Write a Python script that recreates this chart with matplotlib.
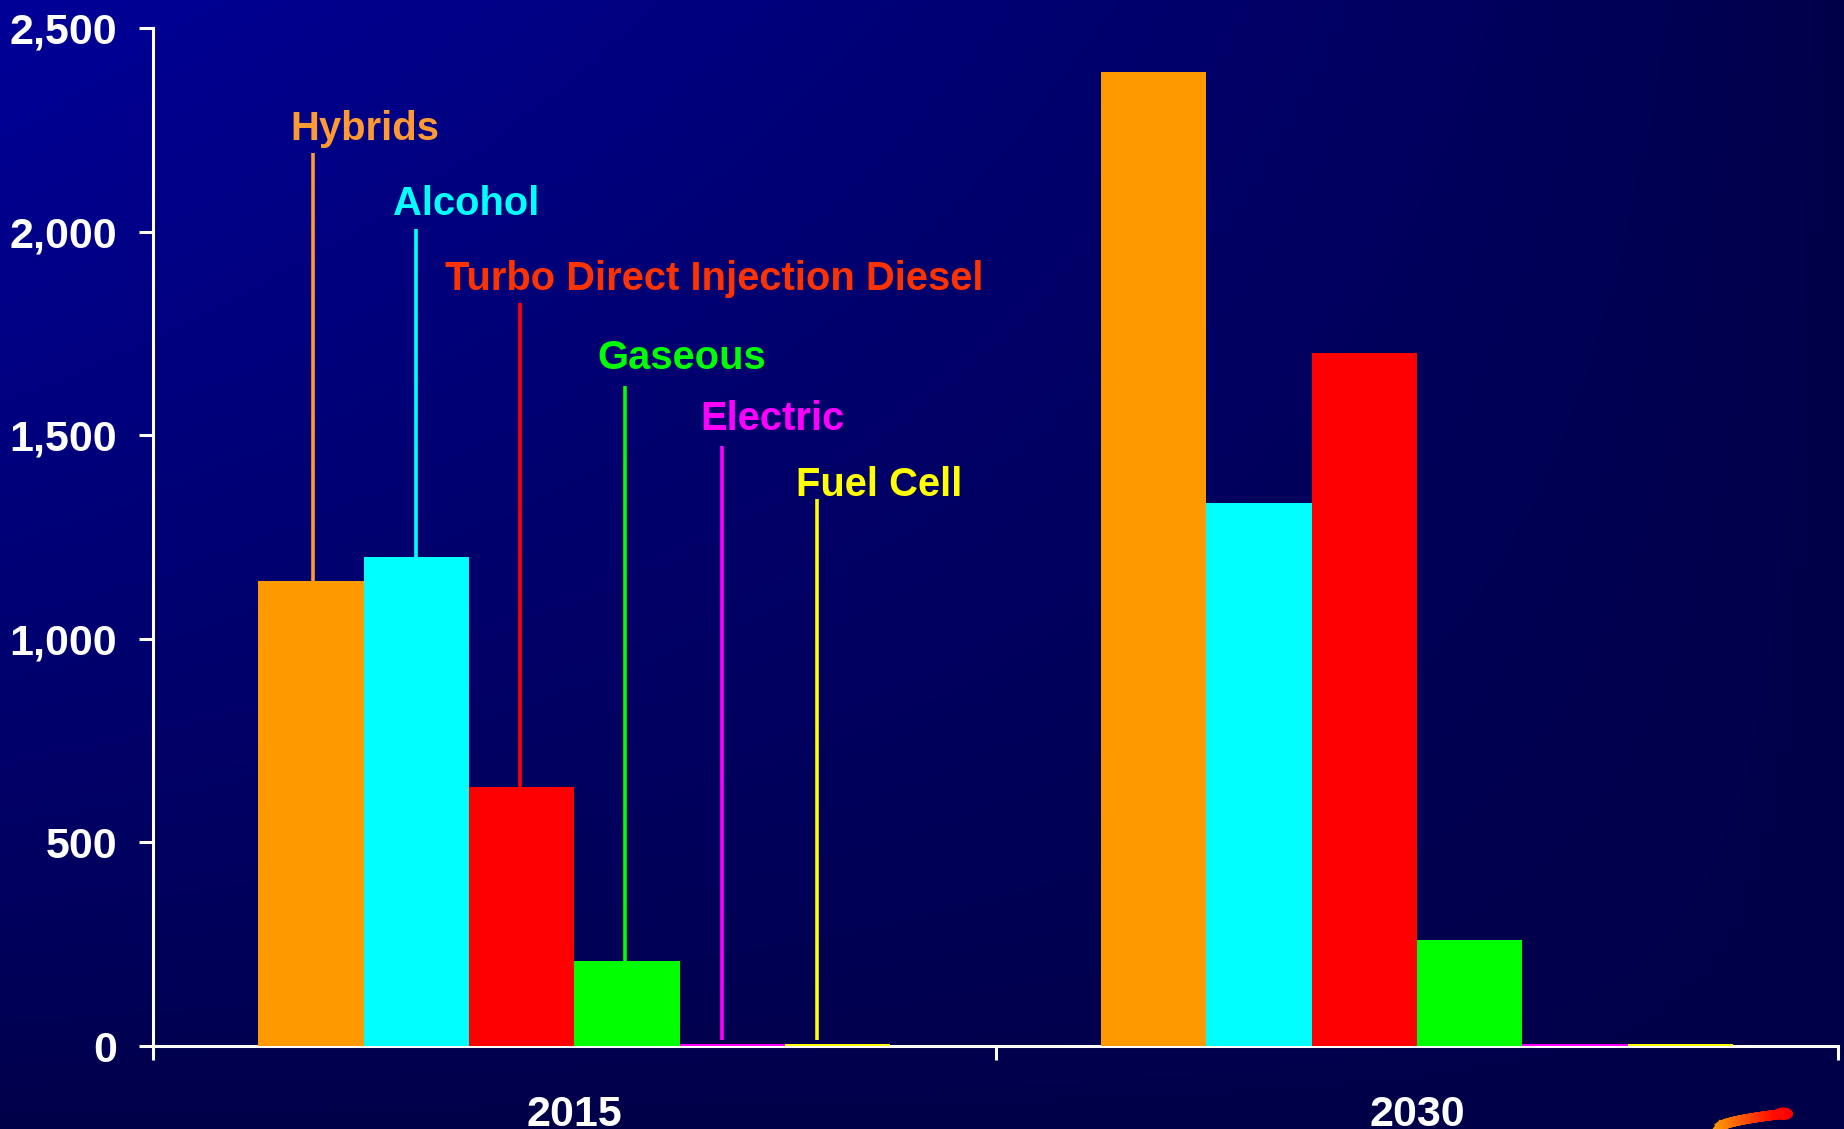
import matplotlib.pyplot as plt
import numpy as np
from matplotlib.ticker import StrMethodFormatter, FixedLocator

years = ['2015', '2030']
fuels = ['Hybrids', 'Alcohol', 'Turbo Direct Injection Diesel', 'Gaseous', 'Electric', 'Fuel Cell']
values_2015 = [1143, 1201, 637, 208, 5, 5]
values_2030 = [2392, 1334, 1702, 260, 5, 5]
bar_colors = ['#FF9900', '#00FFFF', '#FF0000', '#00FF00', '#FF00FF', '#FFFF00']
label_colors = ['#FF9933', '#00FFFF', '#FF3300', '#00FF00', '#FF00FF', '#FFFF00']
line_colors = ['#FF9933', '#00FFFF', '#FF0000', '#00FF00', '#FF00FF', '#FFFF00']

# callouts for the 2015 group (text x, text baseline y, line x, line top y)
label_x = [0.163, 0.285, 0.347, 0.527, 0.649, 0.763]
label_y = [2225, 2040, 1858, 1662, 1512, 1350]
line_x = [0.190, 0.312, 0.436, 0.560, 0.675, 0.788]
line_top = [2193, 2006, 1825, 1621, 1474, 1344]

plt.rcParams['font.family'] = ['Liberation Sans', 'DejaVu Sans']

fig = plt.figure(figsize=(18.44, 11.29), dpi=100)

# background gradient
bg = fig.add_axes([0, 0, 1, 1])
gx, gy = np.meshgrid(np.linspace(0, 1, 400), np.linspace(0, 1, 300))
t = ((1 - gx) * (1 - gy)) ** 0.8
img = np.zeros((300, 400, 3))
img[..., 2] = (72 + 80 * t) / 255
bg.imshow(img, aspect='auto', extent=[0, 1, 0, 1], origin='upper')
bg.axis('off')

ax = fig.add_axes([0.083, 0.0735, 0.914, 0.9015])
ax.patch.set_alpha(0)

width = 0.125
centers = np.arange(len(years)) + 0.5
for i, (v15, v30) in enumerate(zip(values_2015, values_2030)):
    xs = centers + (i - 2.5) * width
    ax.bar(xs, [v15, v30], width=width, color=bar_colors[i], linewidth=0, zorder=2)
    # callout line and label
    bottom = max(values_2015[i], 15)
    ax.vlines(line_x[i], bottom, line_top[i], color=line_colors[i], lw=2.6, zorder=3)
    ax.text(label_x[i], label_y[i], fuels[i], color=label_colors[i], fontsize=28.8,
            fontweight='bold', ha='left', va='baseline')

ax.set_xlim(0, 2)
ax.set_ylim(0, 2500)
ax.set_yticks([0, 500, 1000, 1500, 2000, 2500])
ax.yaxis.set_major_formatter(StrMethodFormatter('{x:,.0f}'))
ax.xaxis.set_major_locator(FixedLocator([0, 1, 2]))
ax.set_xticklabels([])
ax.xaxis.set_minor_locator(FixedLocator(centers))
ax.set_xticklabels(years, minor=True)

for s in ['top', 'right']:
    ax.spines[s].set_visible(False)
for s in ['left', 'bottom']:
    ax.spines[s].set_color('white')
    ax.spines[s].set_linewidth(2.2)
    ax.spines[s].set_zorder(1)

tick_font = dict(family=['Liberation Sans Narrow', 'Liberation Sans'], weight='bold', size=31)
ax.tick_params(axis='y', colors='white', length=10, width=2.2, direction='out', pad=16)
ax.tick_params(axis='x', which='major', colors='white', length=10, width=2.2, direction='out')
ax.tick_params(axis='x', which='minor', length=0, colors='white', pad=35)
for lab in ax.get_yticklabels() + ax.get_xticklabels(minor=True):
    lab.set_fontproperties(tick_font)
    lab.set_color('white')

# small logo swoosh in bottom right corner
sx = np.linspace(0.932, 0.965, 30)
sy = 0.0 + 0.013 * np.sqrt((sx - 0.932) / 0.033)
for k in range(len(sx) - 1):
    c = plt.cm.autumn(0.6 - 0.6 * k / len(sx))
    fig.add_artist(plt.Line2D(sx[k:k + 2], sy[k:k + 2], color=c, lw=7, transform=fig.transFigure))
fig.add_artist(plt.Circle((0.967, 0.0135), 0.005, color='red', transform=fig.transFigure))

fig.savefig('out.png', dpi=100)
